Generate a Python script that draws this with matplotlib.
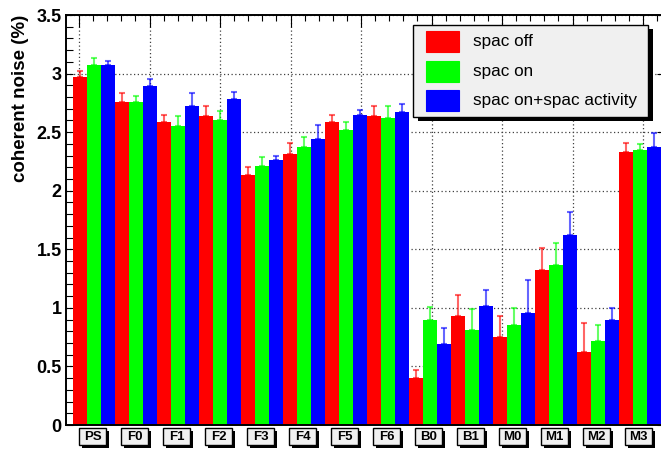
import numpy as np
import matplotlib
matplotlib.use('Agg')
import matplotlib.pyplot as plt
from matplotlib.patches import Rectangle
from matplotlib.ticker import MultipleLocator

plt.rcParams['font.family'] = ['Liberation Sans', 'DejaVu Sans']

# coherent noise per channel group, three spac settings
channels = ['PS', 'F0', 'F1', 'F2', 'F3', 'F4', 'F5', 'F6', 'B0', 'B1', 'M0', 'M1', 'M2', 'M3']
noise_off = [2.97, 2.76, 2.59, 2.64, 2.13, 2.31, 2.59, 2.64, 0.40, 0.93, 0.75, 1.32, 0.62, 2.33]
noise_on = [3.07, 2.76, 2.55, 2.60, 2.21, 2.37, 2.52, 2.62, 0.90, 0.81, 0.85, 1.37, 0.72, 2.35]
noise_act = [3.07, 2.89, 2.72, 2.78, 2.26, 2.44, 2.65, 2.67, 0.69, 1.02, 0.96, 1.62, 0.90, 2.37]
err_off = [0.05, 0.07, 0.06, 0.08, 0.07, 0.10, 0.06, 0.08, 0.07, 0.18, 0.18, 0.19, 0.25, 0.08]
err_on = [0.06, 0.05, 0.09, 0.08, 0.08, 0.09, 0.07, 0.10, 0.11, 0.18, 0.15, 0.18, 0.13, 0.05]
err_act = [0.04, 0.06, 0.11, 0.06, 0.04, 0.12, 0.04, 0.07, 0.14, 0.13, 0.28, 0.20, 0.10, 0.12]
series_names = ['spac off', 'spac on', 'spac on+spac activity']
ytick_labels = ['0', '0.5', '1', '1.5', '2', '2.5', '3', '3.5']

W, H = 661., 451.
fig = plt.figure(figsize=(W/100, H/100), dpi=100)
ax = fig.add_axes([66/W, 26/H, (664-66)/W, 410/H])

colors = ['#ff0000', '#00ff00', '#0000ff']
series = [noise_off, noise_on, noise_act]
errors = [err_off, err_on, err_act]
x = np.arange(len(channels))
bw = 1/3.

for k in range(3):
    ax.bar(x + k*bw, series[k], width=bw, align='edge', color=colors[k], lw=0, zorder=2)
    lo = np.zeros(len(channels))
    ax.errorbar(x + k*bw + bw/2, series[k], yerr=[lo, errors[k]], fmt='none',
                ecolor=colors[k], alpha=0.6, elinewidth=1.5, capsize=2.5, capthick=1.5, zorder=3)

# ticks: top axis only for x, left/right for y
major = 6/42. + np.arange(9)*70.5/42.
minor = 6/42. + np.arange(42)*70.5/42./5
ax.set_xticks(major)
ax.set_xticks(minor, minor=True)
ax.xaxis.set_ticks_position('top')
ax.tick_params(axis='x', which='major', direction='in', length=8.6, width=0.8,
               top=True, bottom=False, labeltop=False, labelbottom=False)
ax.tick_params(axis='x', which='minor', direction='in', length=4.3, width=0.8,
               top=True, bottom=False)

ax.set_yticks(np.arange(0, 3.51, 0.5))
ax.set_yticklabels(ytick_labels, fontsize=13, fontweight='bold')
ax.yaxis.set_minor_locator(MultipleLocator(0.1))
ax.tick_params(axis='y', which='major', direction='in', length=5, width=0.8,
               left=True, right=True, pad=3)
ax.tick_params(axis='y', which='minor', direction='in', length=5, width=0.8,
               left=True, right=False)

ax.set_xlim(-7/42., (664-73)/42.)
ax.set_ylim(0, 3.5)

ax.grid(True, which='major', linestyle=(0, (1, 2)), color='#404040', linewidth=0.9)
ax.set_axisbelow(True)
for s in ax.spines.values():
    s.set_linewidth(1.4)

# boxed channel labels under each group
tr = ax.get_xaxis_transform()
box_w = 27/42.
box_h = 17/410.
box_y = -(3+17)/410.
dx, dy = 3/42., 3/410.
for i, name in enumerate(channels):
    x0 = i + 0.5 - box_w/2 - 1.5/42.
    ax.add_patch(Rectangle((x0 + dx, box_y - dy), box_w, box_h, transform=tr,
                           fc='black', ec='black', lw=0, clip_on=False, zorder=5))
    ax.add_patch(Rectangle((x0, box_y), box_w, box_h, transform=tr,
                           fc='#f0f0f0', ec='black', lw=1, clip_on=False, zorder=6))
    ax.text(x0 + box_w/2, box_y + box_h/2, name, transform=tr, ha='center', va='center',
            fontsize=9.5, fontweight='bold', zorder=7, clip_on=False)

fig.text(21/W, 1-15/H, 'coherent noise (%)', rotation=90, ha='center', va='top',
         fontsize=13.5, fontweight='bold')

# legend box with drop shadow
def fx(px):
    return px/W

def fy(py):
    return 1 - py/H

lx0, ly0, lx1, ly1 = 413, 25, 648, 117
fig.patches.append(Rectangle((fx(lx0+5), fy(ly1+4)), (lx1-lx0)/W, (ly1-ly0)/H,
                             transform=fig.transFigure, fc='black', lw=0, zorder=8))
fig.patches.append(Rectangle((fx(lx0), fy(ly1)), (lx1-lx0)/W, (ly1-ly0)/H,
                             transform=fig.transFigure, fc='#f0f0f0', ec='black', lw=1, zorder=9))
for k in range(3):
    yc = 41.7 + k*29.5
    fig.patches.append(Rectangle((fx(426), fy(yc+10.5)), 33/W, 21/H, transform=fig.transFigure,
                                 fc=colors[k], ec=colors[k], lw=0.8, zorder=10))
    fig.text(fx(473), fy(yc), series_names[k], ha='left', va='center', fontsize=12.3, zorder=11)

fig.savefig('out.png', dpi=100)
